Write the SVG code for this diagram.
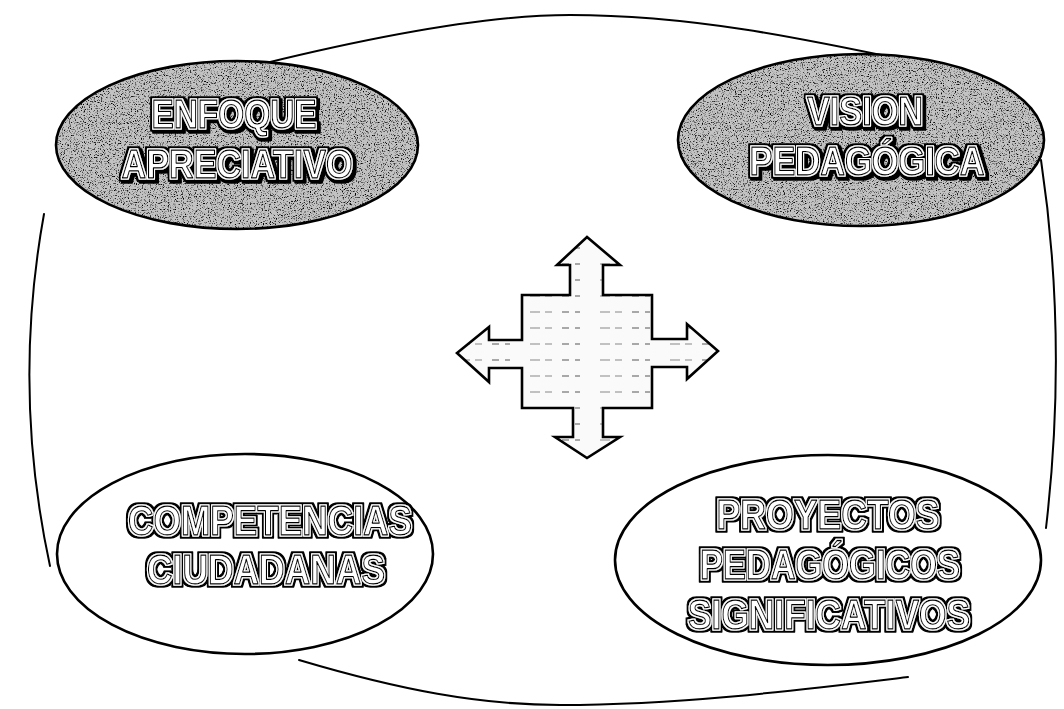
<svg xmlns="http://www.w3.org/2000/svg" width="1064" height="709" viewBox="0 0 1064 709">
<defs>
<style>
.bnd{fill:none;stroke:#000;stroke-width:2;stroke-linecap:round}
.ell{stroke:#000;stroke-width:2.6}
.t{font-family:"Liberation Sans",Arial,sans-serif;font-weight:bold;text-anchor:middle;stroke-linejoin:round;fill:#fff;stroke:#000;stroke-width:1.3}
.top{font-size:40px;filter:url(#dblsh)}
.bot{font-size:43px;filter:url(#dbl)}
</style>
<filter id="grain" x="0" y="0" width="100%" height="100%">
<feTurbulence type="fractalNoise" baseFrequency="0.85" numOctaves="3" seed="5" result="n"/>
<feColorMatrix in="n" type="matrix" values="0 0 0 0 0  0 0 0 0 0  0 0 0 0 0  4 0 0 0 -2.15" result="d"/>
<feComposite in="d" in2="SourceGraphic" operator="in"/>
</filter>
<filter id="dbl" x="-10%" y="-40%" width="120%" height="180%">
<feMorphology in="SourceAlpha" operator="dilate" radius="1.1" result="d1"/>
<feMorphology in="SourceAlpha" operator="dilate" radius="2.5" result="d2"/>
<feFlood flood-color="#000" result="blk"/>
<feComposite in="blk" in2="d2" operator="in" result="outer"/>
<feFlood flood-color="#fff" result="wht"/>
<feComposite in="wht" in2="d1" operator="in" result="mid"/>
<feMerge><feMergeNode in="outer"/><feMergeNode in="mid"/><feMergeNode in="SourceGraphic"/></feMerge>
</filter>
<filter id="dblsh" x="-10%" y="-40%" width="120%" height="180%">
<feMorphology in="SourceAlpha" operator="dilate" radius="1.1" result="d1"/>
<feMorphology in="SourceAlpha" operator="dilate" radius="2.5" result="d2"/>
<feFlood flood-color="#000" result="blk"/>
<feComposite in="blk" in2="d2" operator="in" result="outer"/>
<feOffset in="outer" dx="2" dy="2" result="shadow"/>
<feFlood flood-color="#fff" result="wht"/>
<feComposite in="wht" in2="d1" operator="in" result="mid"/>
<feMerge><feMergeNode in="shadow"/><feMergeNode in="outer"/><feMergeNode in="mid"/><feMergeNode in="SourceGraphic"/></feMerge>
</filter>
<pattern id="dash" width="70" height="16" patternUnits="userSpaceOnUse">
<line x1="2" y1="8" x2="20" y2="8" stroke="#555" stroke-width="1" stroke-dasharray="7 6"/>
<line x1="40" y1="8" x2="62" y2="8" stroke="#888" stroke-width="1" stroke-dasharray="10 5"/>
</pattern>
</defs>
<rect width="1064" height="709" fill="#fff"/>
<g id="connectors">
<path class="bnd" d="M262 64 C360 40 480 15 570 15 C690 15 800 38 905 60"/>
<path class="bnd" d="M44 214 Q12 390 50 566"/>
<path class="bnd" d="M1041 160 Q1068 340 1046 528"/>
<path class="bnd" d="M299 660 C400 690 480 705 560 705 C680 705 800 690 908 677"/>
</g>
<g id="cross">
<polygon points="587,237 620,265 603,265 603,295 652,295 652,339 687,339 687,324 718,351 687,379 687,367 652,367 652,408 603,408 603,437 620,437 587,458 555,437 573,437 573,408 522,408 522,368 489,368 489,382 457,353 489,327 489,340 522,340 522,295 570,295 570,265 557,265" fill="#fafafa"/>
<polygon points="587,237 620,265 603,265 603,295 652,295 652,339 687,339 687,324 718,351 687,379 687,367 652,367 652,408 603,408 603,437 620,437 587,458 555,437 573,437 573,408 522,408 522,368 489,368 489,382 457,353 489,327 489,340 522,340 522,295 570,295 570,265 557,265" fill="url(#dash)" stroke="#000" stroke-width="2.6" stroke-linejoin="miter"/>
</g>
<g id="enfoque">
<ellipse cx="237" cy="145" rx="181" ry="84" fill="#c2c2c2"/>
<ellipse cx="237" cy="145" rx="181" ry="84" fill="#000" filter="url(#grain)"/>
<ellipse class="ell" cx="237" cy="145" rx="181" ry="84" fill="none"/>
<text class="t top" x="234" y="128" textLength="165" lengthAdjust="spacingAndGlyphs">ENFOQUE</text>
<text class="t top" x="237" y="178" textLength="231" lengthAdjust="spacingAndGlyphs">APRECIATIVO</text>
</g>
<g id="vision">
<ellipse cx="861" cy="140" rx="183" ry="86" fill="#c2c2c2"/>
<ellipse cx="861" cy="140" rx="183" ry="86" fill="#000" filter="url(#grain)"/>
<ellipse class="ell" cx="861" cy="140" rx="183" ry="86" fill="none"/>
<text class="t top" x="865" y="125" textLength="116" lengthAdjust="spacingAndGlyphs">VISION</text>
<text class="t top" x="867" y="175" textLength="235" lengthAdjust="spacingAndGlyphs">PEDAGÓGICA</text>
</g>
<g id="competencias">
<ellipse class="ell" cx="245" cy="554" rx="188" ry="100" fill="#fff"/>
<text class="t bot" x="270" y="535" textLength="284" lengthAdjust="spacingAndGlyphs">COMPETENCIAS</text>
<text class="t bot" x="266" y="584" textLength="238" lengthAdjust="spacingAndGlyphs">CIUDADANAS</text>
</g>
<g id="proyectos">
<ellipse class="ell" cx="828" cy="560" rx="213" ry="105" fill="#fff"/>
<text class="t bot" x="828" y="529" textLength="223" lengthAdjust="spacingAndGlyphs">PROYECTOS</text>
<text class="t bot" x="830" y="579" textLength="260" lengthAdjust="spacingAndGlyphs">PEDAGÓGICOS</text>
<text class="t bot" x="829" y="629" textLength="282" lengthAdjust="spacingAndGlyphs">SIGNIFICATIVOS</text>
</g>
</svg>
